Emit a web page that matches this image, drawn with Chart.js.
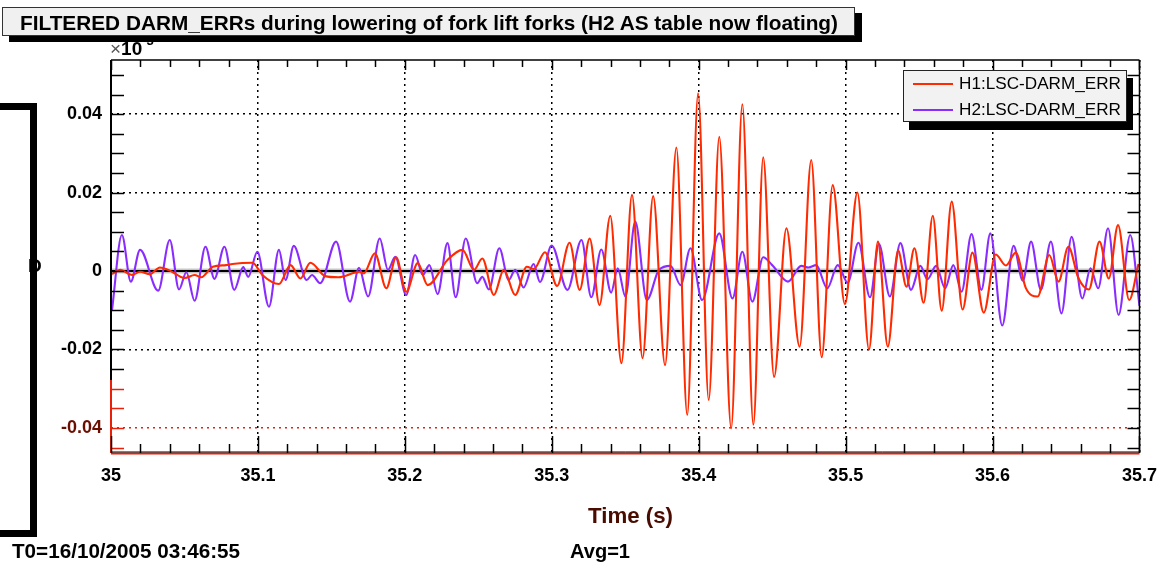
<!DOCTYPE html>
<html>
<head>
<meta charset="utf-8">
<script src="https://cdn.jsdelivr.net/npm/chart.js@4.4.1/dist/chart.umd.min.js"></script>
<style>
  body { margin: 0; background: #fff; font-family: "Liberation Sans", Arial, sans-serif; }
  #wrap { position: relative; width: 1169px; height: 572px; overflow: hidden; }
  #c { position: absolute; left: 0; top: 0; }
  .txt { position: absolute; white-space: nowrap; font-weight: bold; color: #000; transform-origin: left center; }
  #title { position: absolute; left: 2px; top: 7px; width: 851px; height: 27px; background: #f0f0f0;
           border: 1px solid #333; box-shadow: 7px 6px 0 #000; }
  #title span { position: absolute; left: 17px; top: 1px; line-height: 27px; font-size: 21px; font-weight: bold;
                white-space: nowrap; transform-origin: left center; }
  #legend { position: absolute; left: 903px; top: 70px; width: 222px; height: 50px; background: #f2f2f2;
            border: 1px solid #222; box-shadow: 6px 8px 0 #000; }
  .row { position: absolute; left: 0; height: 26px; width: 100%; }
  .row i { position: absolute; left: 9px; top: 12px; width: 40px; height: 2px; }
  .row b { position: absolute; left: 55px; top: 0; line-height: 26px; font-weight: normal; font-size: 17px;
           white-space: nowrap; transform-origin: left center; }
  #bracket { position: absolute; left: -20px; top: 103px; width: 43px; height: 420px; border: 7px solid #000; }
  #ylab { position: absolute; left: 28px; top: 255px; font-size: 19px; font-weight: bold; }
  #exp { position: absolute; left: 110px; top: 36px; font-size: 19px; font-weight: bold; }
  #exp .x { font-weight: normal; color: #555; }
  #exp sup { font-size: 13px; position: relative; top: -3px; }
</style>
</head>
<body>
<div id="wrap">
  <canvas id="c" width="1169" height="572"></canvas>
  <div id="ylab">D</div>
  <div id="bracket"></div>
  <div id="exp"><span class="x">×</span>10<sup>-3</sup></div>
  <div id="title"><span id="titleText">FILTERED DARM_ERRs during lowering of fork lift forks (H2 AS table now floating)</span></div>
  <div id="legend"></div>
  <div class="txt" id="xtitle" style="left:588px; top:503px; font-size:22px; color:#4a0c00;">Time (s)</div>
  <div class="txt" id="t0" style="left:12px; top:540px; font-size:20px;">T0=16/10/2005 03:46:55</div>
  <div class="txt" id="avg" style="left:570px; top:540px; font-size:20px;">Avg=1</div>
</div>
<script>
// --- dados (tempo em s, amplitude em unidades de 1e-3) ---
const seriesNames = ['H1:LSC-DARM_ERR', 'H2:LSC-DARM_ERR'];
const seriesColors = ['#ff2a00', '#8a2cff'];

const h1Times = [35.0007, 35.0063, 35.0142, 35.0198, 35.0265, 35.0333, 35.0400, 35.0502, 35.0569, 35.0614,
  35.0693, 35.0783, 35.0826, 35.0963, 35.1030, 35.1143, 35.1222, 35.1289, 35.1357, 35.1458,
  35.1548, 35.1694, 35.1720, 35.1796, 35.1874, 35.1941, 35.2009, 35.2088, 35.2155, 35.2290,
  35.2392, 35.2471, 35.2527, 35.2606, 35.2673, 35.2751, 35.2830, 35.2878, 35.2954, 35.3036,
  35.3121, 35.3190, 35.3258, 35.3325, 35.3398, 35.3474, 35.3546, 35.3618, 35.3690, 35.3771,
  35.3848, 35.3922, 35.3996, 35.4068, 35.4140, 35.4221, 35.4297, 35.4372, 35.4439, 35.4513,
  35.4597, 35.4687, 35.4766, 35.4837, 35.4912, 35.4995, 35.5080, 35.5159, 35.5220, 35.5287,
  35.5357, 35.5414, 35.5468, 35.5531, 35.5593, 35.5654, 35.5722, 35.5796, 35.5863, 35.5940,
  35.6021, 35.6091, 35.6158, 35.6226, 35.6307, 35.6386, 35.6449, 35.6516, 35.6584, 35.6656,
  35.6728, 35.6791, 35.6854, 35.6930, 35.6993];
const h1Values = [-0.0008, 0.0003, -0.0010, -0.0002, -0.0008, 0.0009, 0.0001, -0.0018, -0.0010, -0.0016,
  0.0011, 0.0015, 0.0018, 0.0021, -0.0010, -0.0033, 0.0015, -0.0019, 0.0021, -0.0013,
  -0.0016, -0.0002, -0.0006, 0.0045, -0.0044, 0.0035, -0.0053, 0.0020, -0.0036, 0.0028,
  0.0054, 0.0003, 0.0032, -0.0061, 0.0003, -0.0061, 0.0011, 0.0005, 0.0048, -0.0038,
  0.0072, -0.0048, 0.0083, -0.0087, 0.0141, -0.0235, 0.0194, -0.0222, 0.0191, -0.0240,
  0.0315, -0.0367, 0.0453, -0.0329, 0.0342, -0.0401, 0.0425, -0.0392, 0.0290, -0.0270,
  0.0109, -0.0193, 0.0283, -0.0220, 0.0219, -0.0084, 0.0200, -0.0200, 0.0075, -0.0193,
  0.0052, -0.0040, 0.0058, -0.0081, 0.0141, -0.0101, 0.0177, -0.0098, 0.0047, -0.0106,
  0.0042, 0.0014, 0.0047, -0.0043, -0.0065, 0.0041, -0.0027, 0.0062, -0.0018, -0.0047,
  0.0075, -0.0019, 0.0117, -0.0074, 0.0018];

const h2Times = [35.0007, 35.0074, 35.0135, 35.0198, 35.0321, 35.0400, 35.0463, 35.0513, 35.0569, 35.0643,
  35.0704, 35.0772, 35.0839, 35.0900, 35.0934, 35.0996, 35.1075, 35.1143, 35.1188, 35.1244,
  35.1332, 35.1368, 35.1424, 35.1532, 35.1627, 35.1688, 35.1750, 35.1829, 35.1885, 35.1935,
  35.2009, 35.2070, 35.2122, 35.2167, 35.2223, 35.2290, 35.2346, 35.2414, 35.2493, 35.2527,
  35.2572, 35.2643, 35.2707, 35.2751, 35.2808, 35.2876, 35.2920, 35.2999, 35.3107, 35.3202,
  35.3269, 35.3337, 35.3404, 35.3449, 35.3501, 35.3568, 35.3647, 35.3730, 35.3808, 35.3877,
  35.3944, 35.4023, 35.4140, 35.4230, 35.4297, 35.4365, 35.4439, 35.4500, 35.4608, 35.4698,
  35.4748, 35.4800, 35.4875, 35.4946, 35.5014, 35.5087, 35.5166, 35.5227, 35.5301, 35.5373,
  35.5445, 35.5508, 35.5557, 35.5616, 35.5677, 35.5733, 35.5789, 35.5857, 35.5924, 35.5985,
  35.6066, 35.6143, 35.6206, 35.6262, 35.6329, 35.6397, 35.6469, 35.6538, 35.6611, 35.6667,
  35.6719, 35.6786, 35.6858, 35.6937, 35.7000];
const h2Values = [-0.0099, 0.0092, -0.0027, 0.0054, -0.0050, 0.0079, -0.0047, -0.0003, -0.0076, 0.0062,
  -0.0020, 0.0062, -0.0048, 0.0010, -0.0015, 0.0049, -0.0091, 0.0054, -0.0023, 0.0064,
  -0.0023, -0.0010, -0.0031, 0.0075, -0.0078, 0.0008, -0.0065, 0.0083, 0.0003, 0.0036,
  -0.0061, 0.0041, -0.0010, 0.0015, -0.0059, 0.0071, -0.0067, 0.0083, -0.0031, -0.0015,
  -0.0047, 0.0058, -0.0023, 0.0003, -0.0042, 0.0018, -0.0028, 0.0065, -0.0048, 0.0079,
  -0.0067, 0.0055, -0.0055, 0.0007, -0.0065, 0.0126, -0.0074, 0.0003, 0.0013, -0.0036,
  0.0058, -0.0074, 0.0096, -0.0070, 0.0049, -0.0078, 0.0035, 0.0015, -0.0027, 0.0013,
  0.0009, 0.0015, -0.0044, 0.0015, -0.0030, 0.0072, -0.0067, 0.0069, -0.0065, 0.0071,
  -0.0048, 0.0013, -0.0021, 0.0013, -0.0044, 0.0015, -0.0053, 0.0094, -0.0048, 0.0096,
  -0.0139, 0.0064, -0.0025, 0.0075, -0.0048, 0.0075, -0.0108, 0.0087, -0.0070, 0.0007,
  -0.0044, 0.0109, -0.0112, 0.0092, -0.0089];

const xTicks = [35, 35.1, 35.2, 35.3, 35.4, 35.5, 35.6, 35.7];
const yTicks = [-0.04, -0.02, 0, 0.02, 0.04];
const xMinorStep = 0.02;
const yMinorStep = 0.005;
const xRange = [35, 35.7];
const yRange = [-0.0464, 0.0538];

// --- legenda em HTML ---
const legend = document.getElementById('legend');
seriesNames.forEach((name, i) => {
  const row = document.createElement('div');
  row.className = 'row';
  row.style.top = (i * 26) + 'px';
  row.innerHTML = `<i style="background:${seriesColors[i]}"></i><b>${name}</b>`;
  legend.appendChild(row);
});

// ajusta a largura dos textos (fonte original é mais estreita)
function squeeze(el, w) {
  const r = el.getBoundingClientRect().width;
  if (r > 0) el.style.transform = `scaleX(${w / r})`;
}
squeeze(document.getElementById('titleText'), 818);
squeeze(document.getElementById('xtitle'), 85);
squeeze(document.getElementById('t0'), 228);
squeeze(document.getElementById('avg'), 60);
document.querySelectorAll('.row b').forEach(b => squeeze(b, 162));

// --- moldura, marcas e linha do zero ---
function seg(ctx, x1, y1, x2, y2) { ctx.beginPath(); ctx.moveTo(x1, y1); ctx.lineTo(x2, y2); ctx.stroke(); }
const near = (v, step) => Math.abs(v / step - Math.round(v / step)) < 1e-6;

const framePlugin = {
  id: 'frame',
  beforeDatasetsDraw(chart) {
    const { ctx, chartArea: a, scales: { y } } = chart;
    const y0 = y.getPixelForValue(0);
    ctx.save();
    ctx.strokeStyle = 'rgba(0,0,0,0.22)'; ctx.lineWidth = 5;
    seg(ctx, a.left, y0, a.right, y0);
    ctx.strokeStyle = '#000'; ctx.lineWidth = 2;
    seg(ctx, a.left, y0, a.right, y0);
    ctx.restore();
  },
  afterDatasetsDraw(chart) {
    const { ctx, chartArea: a, scales: { x, y } } = chart;
    ctx.save();
    const redFrom = y.getPixelForValue(-0.0278);
    // bordas
    ctx.lineWidth = 1.5; ctx.strokeStyle = '#000';
    seg(ctx, a.left, a.top, a.right, a.top);
    seg(ctx, a.right, a.top, a.right, a.bottom);
    ctx.lineWidth = 2;
    seg(ctx, a.left, a.top, a.left, redFrom);
    ctx.strokeStyle = '#e8200a';
    seg(ctx, a.left, redFrom, a.left, a.bottom);
    seg(ctx, a.left, a.bottom + 0.5, a.right, a.bottom + 0.5);
    ctx.strokeStyle = '#000'; ctx.lineWidth = 1;
    seg(ctx, a.left, a.bottom - 1, a.right, a.bottom - 1);
    // marcas do eixo y (esquerda e direita)
    ctx.lineWidth = 1.5;
    for (let v = Math.ceil(y.min / yMinorStep) * yMinorStep; v <= y.max; v += yMinorStep) {
      const py = Math.round(y.getPixelForValue(v)) + 0.5;
      ctx.strokeStyle = py > redFrom ? '#e8200a' : '#000';
      seg(ctx, a.left, py, a.left + 13, py);
      ctx.strokeStyle = '#000';
      seg(ctx, a.right - 12, py, a.right, py);
    }
    // marcas do eixo x (baixo e cima)
    for (let v = x.min; v <= x.max + 1e-9; v += xMinorStep) {
      const px = Math.round(x.getPixelForValue(v)) + 0.5;
      const major = near(v, 0.1);
      ctx.strokeStyle = '#000';
      seg(ctx, px, a.bottom, px, a.bottom - (major ? 17 : 9));
      seg(ctx, px, a.top, px, a.top + (major ? 10 : 7));
    }
    ctx.restore();
  }
};

const ctx = document.getElementById('c').getContext('2d');
new Chart(ctx, {
  type: 'line',
  data: {
    datasets: [
      { label: seriesNames[0], data: h1Times.map((t, i) => ({ x: t, y: h1Values[i] })),
        borderColor: seriesColors[0], borderWidth: 2.1, pointRadius: 0, cubicInterpolationMode: 'monotone' },
      { label: seriesNames[1], data: h2Times.map((t, i) => ({ x: t, y: h2Values[i] })),
        borderColor: seriesColors[1], borderWidth: 2.1, pointRadius: 0, cubicInterpolationMode: 'monotone' }
    ]
  },
  options: {
    responsive: false, animation: false,
    layout: { padding: { top: 60, right: 21, left: 0, bottom: 0 } },
    plugins: { legend: { display: false }, tooltip: { enabled: false } },
    scales: {
      x: {
        type: 'linear', min: xRange[0], max: xRange[1],
        afterFit: s => { s.height = 119; },
        afterBuildTicks: s => { s.ticks = xTicks.map(v => ({ value: v })); },
        ticks: { padding: 12, color: '#000', maxRotation: 0, autoSkip: false,
                 font: { family: '"Liberation Sans", Arial', weight: 'bold', size: 18 },
                 callback: v => String(v) },
        grid: { drawTicks: false, color: '#000', lineWidth: 1.5 },
        border: { display: false, dash: [2, 4] }
      },
      y: {
        min: yRange[0], max: yRange[1],
        afterFit: s => { s.width = 111; },
        afterBuildTicks: s => { s.ticks = yTicks.map(v => ({ value: v })); },
        ticks: { padding: 9, autoSkip: false,
                 color: c => (c.tick && c.tick.value < -0.03 ? '#6a0e00' : '#000'),
                 font: { family: '"Liberation Sans", Arial', weight: 'bold', size: 18 },
                 callback: v => String(v) },
        grid: { drawTicks: false, lineWidth: 1.5,
                color: c => (c.tick && c.tick.value < -0.03 ? '#e8200a' : (c.tick && c.tick.value === 0 ? 'transparent' : '#000')) },
        border: { display: false, dash: [2, 4] }
      }
    }
  },
  plugins: [framePlugin]
});
</script>
</body>
</html>
